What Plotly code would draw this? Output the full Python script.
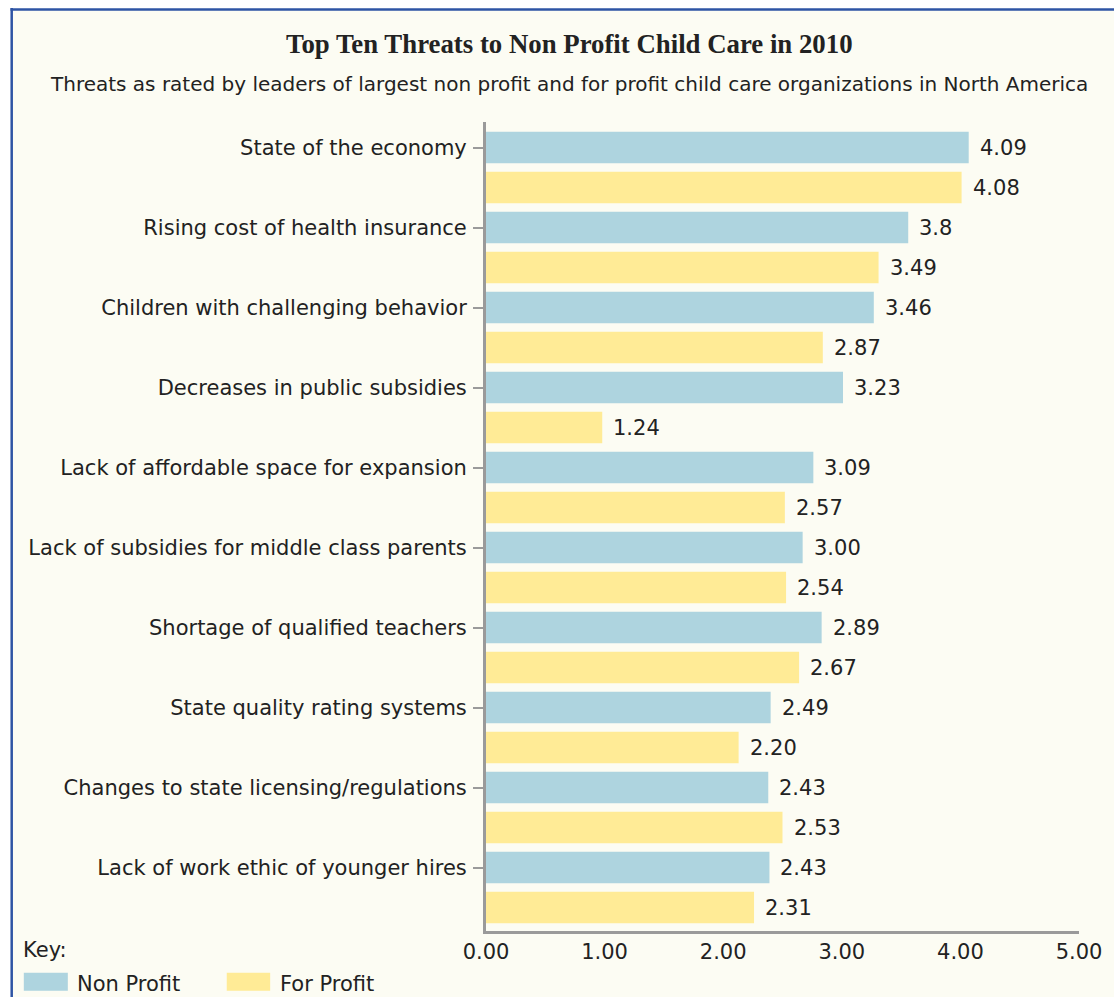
import plotly.graph_objects as go

categories = [
    "State of the economy",
    "Rising cost of health insurance",
    "Children with challenging behavior",
    "Decreases in public subsidies",
    "Lack of affordable space for expansion",
    "Lack of subsidies for middle class parents",
    "Shortage of qualified teachers",
    "State quality rating systems",
    "Changes to state licensing/regulations",
    "Lack of work ethic of younger hires",
]
# bar lengths as drawn in the picture
non_profit = [4.07, 3.56, 3.27, 3.01, 2.76, 2.67, 2.83, 2.40, 2.38, 2.39]
for_profit = [4.01, 3.31, 2.84, 0.98, 2.52, 2.53, 2.64, 2.13, 2.50, 2.26]
# value labels as printed in the picture
non_profit_labels = ["4.09", "3.8", "3.46", "3.23", "3.09", "3.00", "2.89", "2.49", "2.43", "2.43"]
for_profit_labels = ["4.08", "3.49", "2.87", "1.24", "2.57", "2.54", "2.67", "2.20", "2.53", "2.31"]
x_ticks = [0, 1, 2, 3, 4, 5]

W, H = 1114, 997
L, R, T, B = 486, 31, 122, 66
PW, PH = W - L - R, H - T - B

def px(x):
    return (x - L) / PW

def py(y):
    return (H - B - y) / PH

BLUE = "#aed4df"
YELLOW = "#ffeb96"
BG = "#fcfcf3"
TXT = "#222222"
FONT = "DejaVu Sans"
FS = 21

n = len(categories)
pos_np = [2 * i for i in range(n)]
pos_fp = [2 * i + 1 for i in range(n)]

fig = go.Figure()
fig.add_trace(go.Bar(
    x=non_profit, y=pos_np, orientation="h", width=0.79,
    marker=dict(color=BLUE, line=dict(width=0)), name="Non Profit",
))
fig.add_trace(go.Bar(
    x=for_profit, y=pos_fp, orientation="h", width=0.79,
    marker=dict(color=YELLOW, line=dict(width=0)), name="For Profit",
))

annotations = []
for vals, labs, poss in ((non_profit, non_profit_labels, pos_np),
                         (for_profit, for_profit_labels, pos_fp)):
    for v, lab, p in zip(vals, labs, poss):
        annotations.append(dict(
            x=v, y=p, xref="x", yref="y", text=lab, showarrow=False,
            xanchor="left", yanchor="middle", xshift=9,
            font=dict(family=FONT, size=FS, color=TXT)))

shapes = [
    dict(type="rect", xref="paper", yref="paper", layer="below",
         x0=px(8.5), x1=px(W + 20), y0=py(9.5), y1=py(H + 20),
         fillcolor=BG, line=dict(width=0)),
    dict(type="line", xref="paper", yref="paper", layer="above",
         x0=px(8.5), x1=px(8.5), y0=py(8), y1=py(H + 20),
         line=dict(color="#2e54a4", width=2.5)),
    dict(type="line", xref="paper", yref="paper", layer="above",
         x0=px(7.3), x1=px(W + 20), y0=py(9.5), y1=py(9.5),
         line=dict(color="#2e54a4", width=2.5)),
    dict(type="rect", xref="paper", yref="paper",
         x0=px(20.7), x1=px(65), y0=py(990.7), y1=py(972.7),
         fillcolor=BLUE, line=dict(width=0)),
    dict(type="rect", xref="paper", yref="paper",
         x0=px(225), x1=px(268.7), y0=py(990.7), y1=py(972.7),
         fillcolor=YELLOW, line=dict(width=0)),
]

annotations += [
    dict(text="<b>Top Ten Threats to Non Profit Child Care in 2010</b>",
         xref="paper", yref="paper", x=px(570), y=py(44), showarrow=False,
         xanchor="center", yanchor="middle",
         font=dict(family="Liberation Serif", size=26.8, color=TXT)),
    dict(text="Threats as rated by leaders of largest non profit and for profit child care organizations in North America",
         xref="paper", yref="paper", x=px(570), y=py(84), showarrow=False,
         xanchor="center", yanchor="middle",
         font=dict(family=FONT, size=20, color=TXT)),
    dict(text="Key:", xref="paper", yref="paper", x=px(17.5), y=py(950),
         showarrow=False, xanchor="left", yanchor="middle",
         font=dict(family=FONT, size=FS, color=TXT)),
    dict(text="Non Profit", xref="paper", yref="paper", x=px(72), y=py(984),
         showarrow=False, xanchor="left", yanchor="middle",
         font=dict(family=FONT, size=FS, color=TXT)),
    dict(text="For Profit", xref="paper", yref="paper", x=px(276.5), y=py(984),
         showarrow=False, xanchor="left", yanchor="middle",
         font=dict(family=FONT, size=FS, color=TXT)),
]

fig.update_layout(
    width=W, height=H,
    margin=dict(l=L, r=R, t=T, b=B, pad=0),
    paper_bgcolor="white",
    plot_bgcolor="rgba(0,0,0,0)",
    showlegend=False,
    barmode="overlay",
    shapes=shapes,
    annotations=annotations,
    font=dict(family=FONT, size=FS, color=TXT),
    xaxis=dict(
        range=[0, 5], tickvals=x_ticks, tickformat=".2f",
        showgrid=False, zeroline=False,
        showline=True, linecolor="#9a9a9a", linewidth=3,
        ticks="", tickfont=dict(size=FS, color=TXT, family=FONT),
        fixedrange=True,
    ),
    yaxis=dict(
        range=[2 * n - 0.4125, -0.6375],
        tickvals=pos_np, ticktext=categories,
        showgrid=False, zeroline=False,
        showline=True, linecolor="#9a9a9a", linewidth=3,
        ticks="outside", ticklen=10, tickwidth=2, tickcolor="#9a9a9a",
        ticklabelstandoff=2,
        tickfont=dict(size=FS, color=TXT, family=FONT),
        fixedrange=True,
    ),
)

fig.write_html("out.html")
